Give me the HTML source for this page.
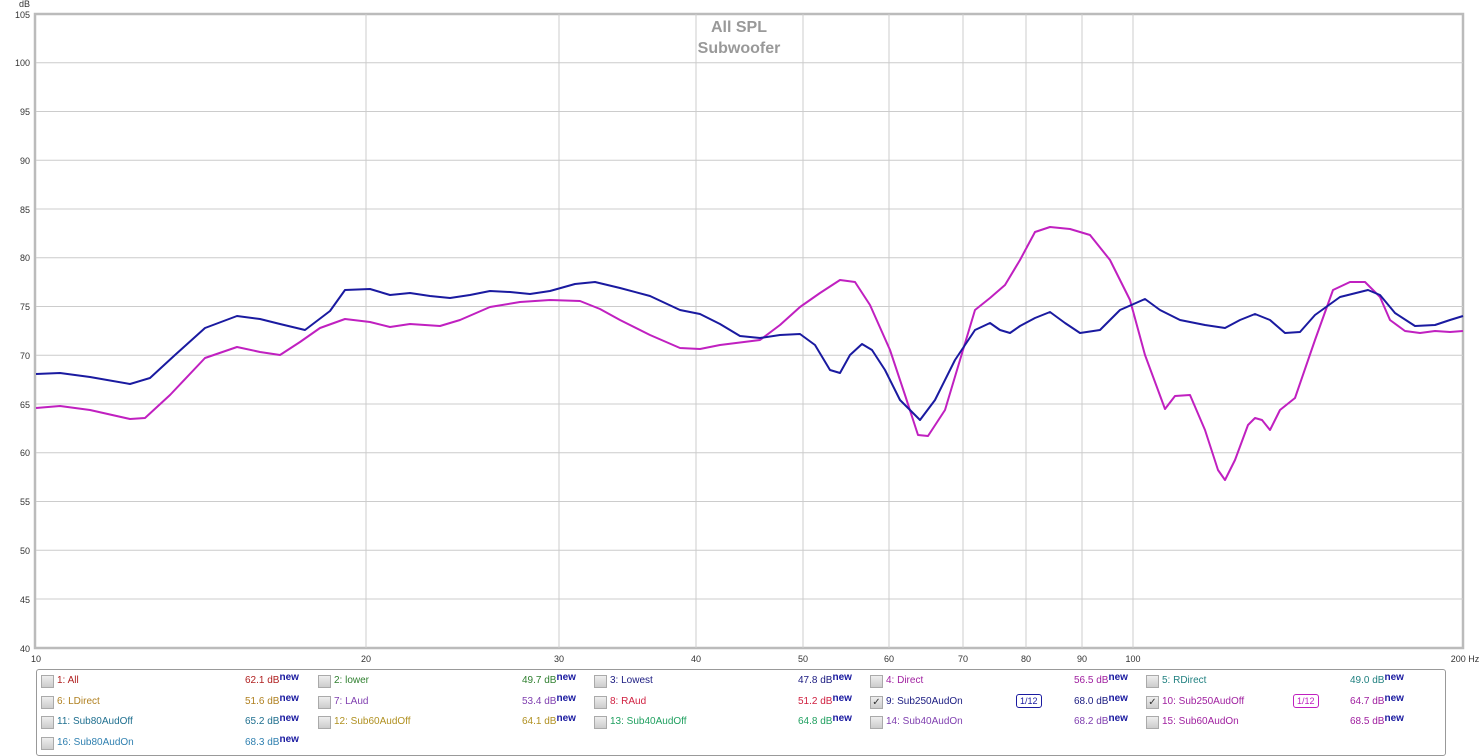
<!DOCTYPE html>
<html><head><meta charset="utf-8"><style>
body{margin:0;background:#fff;width:1479px;height:756px;overflow:hidden;font-family:"Liberation Sans","DejaVu Sans",sans-serif}
.lg{position:absolute;font-size:10px;line-height:12px;white-space:nowrap}
.cb{position:absolute;width:11px;height:11px;border:1px solid #aaa;background:linear-gradient(#eee,#ccc)}
.n{font-weight:bold;color:#1a1aa0;font-size:10px;position:relative;top:-3px}
</style></head><body>
<svg width="1479" height="668" style="position:absolute;left:0;top:0" font-family="Liberation Sans, DejaVu Sans, sans-serif">
<rect x="35" y="14" width="1428" height="634" fill="#fff" stroke="#bbb" stroke-width="2.5"/>
<g stroke="#ccc" stroke-width="1">
<line x1="36" x2="1463" y1="62.75" y2="62.75"/><line x1="36" x2="1463" y1="111.5" y2="111.5"/><line x1="36" x2="1463" y1="160.25" y2="160.25"/><line x1="36" x2="1463" y1="209" y2="209"/><line x1="36" x2="1463" y1="257.75" y2="257.75"/><line x1="36" x2="1463" y1="306.5" y2="306.5"/><line x1="36" x2="1463" y1="355.25" y2="355.25"/><line x1="36" x2="1463" y1="404" y2="404"/><line x1="36" x2="1463" y1="452.75" y2="452.75"/><line x1="36" x2="1463" y1="501.5" y2="501.5"/><line x1="36" x2="1463" y1="550.25" y2="550.25"/><line x1="36" x2="1463" y1="599" y2="599"/>
<line x1="366" x2="366" y1="14" y2="648"/><line x1="559" x2="559" y1="14" y2="648"/><line x1="696" x2="696" y1="14" y2="648"/><line x1="803" x2="803" y1="14" y2="648"/><line x1="889" x2="889" y1="14" y2="648"/><line x1="963" x2="963" y1="14" y2="648"/><line x1="1026" x2="1026" y1="14" y2="648"/><line x1="1082" x2="1082" y1="14" y2="648"/><line x1="1133" x2="1133" y1="14" y2="648"/>
</g>
<g font-size="9" fill="#333" text-anchor="end">
<text x="30" y="18">105</text><text x="30" y="66">100</text><text x="30" y="115">95</text><text x="30" y="164">90</text><text x="30" y="213">85</text><text x="30" y="261">80</text><text x="30" y="310">75</text><text x="30" y="359">70</text><text x="30" y="408">65</text><text x="30" y="456">60</text><text x="30" y="505">55</text><text x="30" y="554">50</text><text x="30" y="603">45</text><text x="30" y="652">40</text>
<text x="30" y="7">dB</text>
</g>
<g font-size="9" fill="#333" text-anchor="middle">
<text x="36" y="662">10</text><text x="366" y="662">20</text><text x="559" y="662">30</text><text x="696" y="662">40</text><text x="803" y="662">50</text><text x="889" y="662">60</text><text x="963" y="662">70</text><text x="1026" y="662">80</text><text x="1082" y="662">90</text><text x="1133" y="662">100</text><text x="1465" y="662">200 Hz</text>
</g>
<text x="739" y="32" font-size="16" font-weight="bold" fill="#999" text-anchor="middle">All SPL</text>
<text x="739" y="53" font-size="16" font-weight="bold" fill="#999" text-anchor="middle">Subwoofer</text>
<polyline fill="none" stroke="#c020c0" stroke-width="2" stroke-linejoin="round" points="36,408 60,406 90,410 130,419 145,418 170,395 205,358 237,347 260,352 280,355 300,342 320,328 345,319 370,322 390,327 410,324 440,326 460,320 490,307 520,302 550,300 580,301 600,309 620,320 650,335 680,348 700,349 720,345 760,340 780,325 800,307 820,293 840,280 855,282 870,305 890,350 905,395 918,435 928,436 945,410 960,360 975,310 990,298 1005,285 1020,260 1035,232 1050,227 1070,229 1090,235 1110,260 1130,300 1145,355 1165,409 1175,396 1190,395 1205,430 1218,470 1225,480 1235,460 1248,425 1255,418 1262,420 1270,430 1280,410 1295,398 1315,340 1333,290 1350,282 1365,282 1380,297 1390,320 1405,331 1420,333 1435,331 1450,332 1463,331"/>
<polyline fill="none" stroke="#1a1aa0" stroke-width="2" stroke-linejoin="round" points="36,374 60,373 90,377 130,384 150,378 175,355 205,328 237,316 260,319 280,324 305,330 330,311 345,290 370,289 390,295 410,293 430,296 450,298 470,295 490,291 510,292 530,294 550,291 575,284 595,282 620,288 650,296 680,310 700,314 720,324 740,336 760,338 780,335 800,334 815,345 830,370 840,373 850,355 862,344 872,350 885,370 900,400 920,420 935,400 955,360 975,330 990,323 1000,330 1010,333 1020,326 1035,318 1050,312 1065,323 1080,333 1100,330 1120,310 1145,299 1160,310 1180,320 1205,325 1225,328 1240,320 1255,314 1270,320 1285,333 1300,332 1315,315 1340,297 1368,290 1380,295 1395,313 1415,326 1435,325 1450,320 1463,316"/>
</svg>
<div style="position:absolute;left:36px;top:669px;width:1408px;height:85px;border:1px solid #999;border-radius:3px"></div>

<div class="cb" style="left:41px;top:675px"></div><div class="lg" style="left:57px;top:675px;color:#b02020">1: All</div><div class="lg" style="left:245px;top:675px;color:#b02020">62.1 dB<span class="n">new</span></div>
<div class="cb" style="left:318px;top:675px"></div><div class="lg" style="left:334px;top:675px;color:#308030">2: lower</div><div class="lg" style="left:522px;top:675px;color:#308030">49.7 dB<span class="n">new</span></div>
<div class="cb" style="left:594px;top:675px"></div><div class="lg" style="left:610px;top:675px;color:#1a1a80">3: Lowest</div><div class="lg" style="left:798px;top:675px;color:#1a1a80">47.8 dB<span class="n">new</span></div>
<div class="cb" style="left:870px;top:675px"></div><div class="lg" style="left:886px;top:675px;color:#a020a0">4: Direct</div><div class="lg" style="left:1074px;top:675px;color:#a020a0">56.5 dB<span class="n">new</span></div>
<div class="cb" style="left:1146px;top:675px"></div><div class="lg" style="left:1162px;top:675px;color:#208080">5: RDirect</div><div class="lg" style="left:1350px;top:675px;color:#208080">49.0 dB<span class="n">new</span></div>

<div class="cb" style="left:41px;top:696px"></div><div class="lg" style="left:57px;top:696px;color:#b08020">6: LDirect</div><div class="lg" style="left:245px;top:696px;color:#b08020">51.6 dB<span class="n">new</span></div>
<div class="cb" style="left:318px;top:696px"></div><div class="lg" style="left:334px;top:696px;color:#8040b0">7: LAud</div><div class="lg" style="left:522px;top:696px;color:#8040b0">53.4 dB<span class="n">new</span></div>
<div class="cb" style="left:594px;top:696px"></div><div class="lg" style="left:610px;top:696px;color:#d02040">8: RAud</div><div class="lg" style="left:798px;top:696px;color:#d02040">51.2 dB<span class="n">new</span></div>
<div class="cb" style="left:870px;top:696px;font-size:10px;line-height:11px;text-align:center;color:#333">✓</div><div class="lg" style="left:886px;top:696px;color:#1a1a80">9: Sub250AudOn</div><div class="lg" style="left:1016px;top:694px;color:#1a1aa0;border:1.5px solid #1a1aa0;border-radius:3px;padding:0 3px;font-size:9px">1/12</div><div class="lg" style="left:1074px;top:696px;color:#1a1a80">68.0 dB<span class="n">new</span></div>
<div class="cb" style="left:1146px;top:696px;font-size:10px;line-height:11px;text-align:center;color:#333">✓</div><div class="lg" style="left:1162px;top:696px;color:#a020a0">10: Sub250AudOff</div><div class="lg" style="left:1293px;top:694px;color:#c020c0;border:1.5px solid #c020c0;border-radius:3px;padding:0 3px;font-size:9px">1/12</div><div class="lg" style="left:1350px;top:696px;color:#a020a0">64.7 dB<span class="n">new</span></div>

<div class="cb" style="left:41px;top:716px"></div><div class="lg" style="left:57px;top:716px;color:#207090">11: Sub80AudOff</div><div class="lg" style="left:245px;top:716px;color:#207090">65.2 dB<span class="n">new</span></div>
<div class="cb" style="left:318px;top:716px"></div><div class="lg" style="left:334px;top:716px;color:#b09020">12: Sub60AudOff</div><div class="lg" style="left:522px;top:716px;color:#b09020">64.1 dB<span class="n">new</span></div>
<div class="cb" style="left:594px;top:716px"></div><div class="lg" style="left:610px;top:716px;color:#20a060">13: Sub40AudOff</div><div class="lg" style="left:798px;top:716px;color:#20a060">64.8 dB<span class="n">new</span></div>
<div class="cb" style="left:870px;top:716px"></div><div class="lg" style="left:886px;top:716px;color:#8040b0">14: Sub40AudOn</div><div class="lg" style="left:1074px;top:716px;color:#8040b0">68.2 dB<span class="n">new</span></div>
<div class="cb" style="left:1146px;top:716px"></div><div class="lg" style="left:1162px;top:716px;color:#a020a0">15: Sub60AudOn</div><div class="lg" style="left:1350px;top:716px;color:#a020a0">68.5 dB<span class="n">new</span></div>

<div class="cb" style="left:41px;top:737px"></div><div class="lg" style="left:57px;top:737px;color:#3080b0">16: Sub80AudOn</div><div class="lg" style="left:245px;top:737px;color:#3080b0">68.3 dB<span class="n">new</span></div>
</body></html>
